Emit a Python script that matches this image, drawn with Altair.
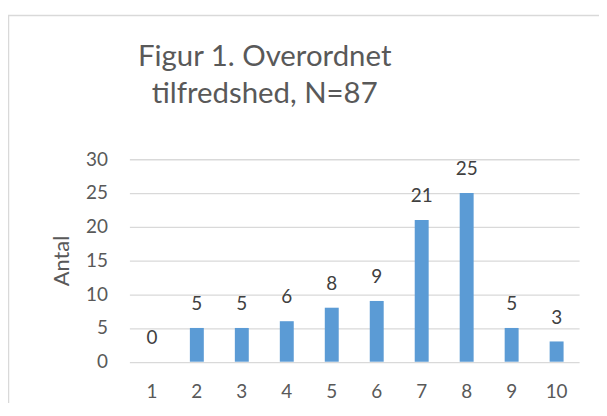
import altair as alt
import pandas as pd

categories = ["1", "2", "3", "4", "5", "6", "7", "8", "9", "10"]
counts = [0, 5, 5, 6, 8, 9, 21, 25, 5, 3]
y_ticks = [0, 5, 10, 15, 20, 25, 30]

df = pd.DataFrame({"score": categories, "antal": counts})
FONT = "Lato"

base = alt.Chart(df)

x = alt.X("score:N", sort=categories, title=None,
          scale=alt.Scale(paddingInner=0.69, paddingOuter=0.345),
          axis=alt.Axis(labelAngle=0, labelFontSize=19, labelColor="#595959",
                        labelFont=FONT, labelPadding=21, domain=False, ticks=False, grid=False))
y = alt.Y("antal:Q", title="Antal", scale=alt.Scale(domain=[0, 30], nice=False),
          axis=alt.Axis(values=y_ticks, labelFontSize=19, labelColor="#595959", labelFont=FONT,
                        labelPadding=22, domain=False, ticks=False, gridColor="#d9d9d9",
                        gridWidth=1.3, titleFontSize=22, titleFont=FONT, titleColor="#595959",
                        titleFontWeight="normal", titlePadding=12))

bars = base.mark_bar(color="#5b9bd5").encode(x=x, y=y)
labels = base.mark_text(baseline="alphabetic", dy=-18, fontSize=19, font=FONT,
                        color="#404040").encode(x=x, y=y, text="antal:Q")

border = alt.Chart(pd.DataFrame({"a": [0]})).mark_rect(
    fill=None, stroke="#d9d9d9", strokeWidth=1.5).encode(
    x=alt.value(-121.5), x2=alt.value(700), y=alt.value(-144.5), y2=alt.value(400))

chart = alt.layer(border, bars, labels).properties(
    width=452, height=203.5,
    padding={"left": 122, "top": 151, "right": 20, "bottom": 40},
    autosize=alt.AutoSizeParams(type="none"),
    title=alt.TitleParams(["Figur 1. Overordnet", "tilfredshed, N=87"], fontSize=29.5,
                          font=FONT, fontWeight="normal", color="#595959",
                          lineHeight=37, anchor="middle", frame="group",
                          baseline="alphabetic", dx=-90, dy=118, offset=0),
).configure_view(stroke=None)

chart.save("out.html", embed_options={"renderer": "svg", "actions": False})
